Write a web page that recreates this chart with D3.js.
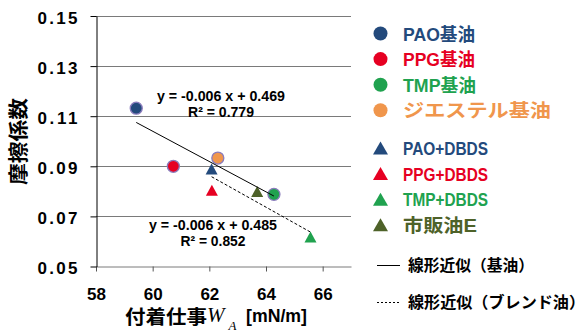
<!DOCTYPE html>
<html><head><meta charset="utf-8">
<script src="https://cdn.jsdelivr.net/npm/d3@7"></script>
<style>
html,body{margin:0;padding:0;background:#fff;}
svg{display:block;}
</style></head>
<body>
<svg id="c" width="585" height="333"></svg>
<script>
// ---- data ----
const seriesNames = ["PAO基油","PPG基油","TMP基油","ジエステル基油","PAO+DBDS","PPG+DBDS","TMP+DBDS","市販油E"];
const seriesGroup = ["base","base","base","base","blend","blend","blend","blend"];
const seriesX = [59.42, 60.73, 64.28, 62.30, 62.08, 62.09, 65.57, 63.69];
const seriesY = [0.1132, 0.0900, 0.0788, 0.0933, 0.0889, 0.0804, 0.0618, 0.0799];
const xTicks = [58, 60, 62, 64, 66];
const yTicks = [0.05, 0.07, 0.09, 0.11, 0.13, 0.15];
const fitLabels = ["線形近似（基油）", "線形近似（ブレンド油）"];
const eqBase = ["y = -0.006 x + 0.469", "R² = 0.779"];
const eqBlend = ["y = -0.006 x + 0.485", "R² = 0.852"];

// ---- styles ----
const colors = ["#234a7c","#e60022","#20a24f","#f0964c","#234a7c","#e60022","#20a24f","#4e6229"];
const shapes = ["circle","circle","circle","circle","tri","tri","tri","tri"];
const legendTextW = [72,72,73,148,85,85,85,74];
const latin = "'Liberation Sans Narrow','Liberation Sans','Noto Sans CJK JP',sans-serif";
const sans = "'Liberation Sans','Noto Sans CJK JP',sans-serif";
const cjk = "'Liberation Sans','Noto Sans CJK JP',sans-serif";

const svg = d3.select("#c");
const x = d3.scaleLinear().domain([58, 67]).range([96, 351]);
const y = d3.scaleLinear().domain([0.05, 0.15]).range([266.5, 16]);

// gridlines
svg.append("g").selectAll("line").data(yTicks.filter(v => v > 0.05)).join("line")
  .attr("x1", 96).attr("x2", 351)
  .attr("y1", d => Math.round(y(d)) + 0.5).attr("y2", d => Math.round(y(d)) + 0.5)
  .attr("stroke", "#7a7a7a").attr("stroke-width", 1);

// x axis
const gx = svg.append("g").attr("transform", "translate(0,266.5)")
  .call(d3.axisBottom(x).tickValues(xTicks).tickSize(5).tickSizeOuter(0).tickFormat(d3.format("d")));
gx.select(".domain").attr("stroke", "#7a7a7a");
gx.selectAll(".tick line").attr("stroke", "#555");
gx.selectAll(".tick text").attr("y", 33).attr("dy", null)
  .attr("font-family", sans).attr("font-weight", "bold").attr("font-size", 17).attr("fill", "#000");

// y axis
const gy = svg.append("g").attr("transform", "translate(96.5,0)")
  .call(d3.axisLeft(y).tickValues(yTicks).tickSize(6).tickSizeOuter(0).tickFormat(d3.format(".2f")));
gy.select(".domain").attr("stroke", "#000");
gy.selectAll(".tick line").attr("stroke", "#000");
gy.selectAll(".tick text").attr("x", -19).attr("y", 7).attr("dy", null)
  .attr("font-family", sans).attr("font-weight", "bold").attr("font-size", 17).attr("fill", "#000")
  .attr("textLength", 40).attr("lengthAdjust", "spacing");

// markers
function triPath(w, h) { return `M0,${-h/2}L${w/2},${h/2}L${-w/2},${h/2}Z`; }
const pts = seriesNames.map((n, i) => ({ i, x: seriesX[i], y: seriesY[i] }));
const mk = svg.append("g");
pts.forEach(p => {
  if (shapes[p.i] === "circle") {
    mk.append("circle").attr("cx", x(p.x)).attr("cy", y(p.y)).attr("r", 6)
      .attr("fill", colors[p.i]).attr("stroke", "#8a7cbc").attr("stroke-width", 1.3);
  } else {
    mk.append("path").attr("d", triPath(12, 11))
      .attr("transform", `translate(${x(p.x)},${y(p.y)})`).attr("fill", colors[p.i]);
  }
});

// linear fits (least squares)
function fit(group) {
  const ps = pts.filter(p => seriesGroup[p.i] === group);
  const mx = d3.mean(ps, p => p.x), my = d3.mean(ps, p => p.y);
  const sxy = d3.sum(ps, p => (p.x - mx) * (p.y - my));
  const sxx = d3.sum(ps, p => (p.x - mx) ** 2);
  const b = sxy / sxx, a = my - b * mx;
  const x0 = d3.min(ps, p => p.x), x1 = d3.max(ps, p => p.x);
  return [[x0, a + b * x0], [x1, a + b * x1]];
}
const line = d3.line().x(d => x(d[0])).y(d => y(d[1]));
svg.append("path").attr("d", line(fit("base"))).attr("stroke", "#000").attr("stroke-width", 1).attr("fill", "none");
svg.append("path").attr("d", line(fit("blend"))).attr("stroke", "#000").attr("stroke-width", 1)
  .attr("stroke-dasharray", "3,2").attr("fill", "none");

// equation labels
function eq(lines, cx, y0, y1, w0, w1) {
  svg.append("text").attr("x", cx).attr("y", y0).attr("text-anchor", "middle")
    .attr("font-family", latin).attr("font-weight", "bold").attr("font-size", 14)
    .attr("textLength", w0).attr("lengthAdjust", "spacingAndGlyphs").text(lines[0]);
  svg.append("text").attr("x", cx).attr("y", y1).attr("text-anchor", "middle")
    .attr("font-family", latin).attr("font-weight", "bold").attr("font-size", 14)
    .attr("textLength", w1).attr("lengthAdjust", "spacingAndGlyphs").text(lines[1]);
}
eq(eqBase, 221, 101, 116.5, 128, 66);
eq(eqBlend, 213, 230, 246, 128, 65);

// axis titles
svg.append("text").attr("transform", "translate(26,141.5) rotate(-90)").attr("text-anchor", "middle")
  .attr("font-family", cjk).attr("font-weight", "bold").attr("font-size", 20)
  .attr("textLength", 87).attr("lengthAdjust", "spacingAndGlyphs").text("摩擦係数");
svg.append("text").attr("x", 125).attr("y", 324)
  .attr("font-family", cjk).attr("font-weight", "bold").attr("font-size", 19)
  .attr("textLength", 82).attr("lengthAdjust", "spacingAndGlyphs").text("付着仕事");
svg.append("text").attr("x", 207).attr("y", 322)
  .attr("font-family", "'Liberation Serif','DejaVu Serif',serif").attr("font-style", "italic")
  .attr("font-size", 21).text("W");
svg.append("text").attr("x", 228.5).attr("y", 330)
  .attr("font-family", "'Liberation Serif','DejaVu Serif',serif").attr("font-style", "italic")
  .attr("font-size", 13).text("A");
svg.append("text").attr("x", 246).attr("y", 322)
  .attr("font-family", latin).attr("font-weight", "bold").attr("font-size", 19)
  .attr("textLength", 61).attr("lengthAdjust", "spacingAndGlyphs").text("[mN/m]");

// legend
const lg = svg.append("g");
seriesNames.forEach((n, i) => {
  const cy = i < 4 ? 33.5 + i * 25.6 : 148 + (i - 4) * 25.6;
  if (shapes[i] === "circle") {
    lg.append("circle").attr("cx", 380.5).attr("cy", cy).attr("r", 7).attr("fill", colors[i]);
  } else {
    lg.append("path").attr("d", triPath(15, 13)).attr("transform", `translate(380.5,${cy})`).attr("fill", colors[i]);
  }
  lg.append("text").attr("x", 403).attr("y", cy + 7)
    .attr("font-family", latin).attr("font-weight", "bold").attr("font-size", 18.5).attr("fill", colors[i])
    .attr("textLength", legendTextW[i]).attr("lengthAdjust", "spacingAndGlyphs").text(n);
});
[265, 302].forEach((ly, k) => {
  lg.append("line").attr("x1", 377).attr("x2", 400).attr("y1", ly + 0.5).attr("y2", ly + 0.5)
    .attr("stroke", "#000").attr("stroke-width", 1).attr("stroke-dasharray", k ? "2,2" : null);
  lg.append("text").attr("x", 408).attr("y", ly + 6)
    .attr("font-family", cjk).attr("font-weight", "bold").attr("font-size", 16).attr("fill", "#000")
    .attr("textLength", k ? 177 : 126).attr("lengthAdjust", "spacingAndGlyphs").text(fitLabels[k]);
});
</script>
</body></html>
